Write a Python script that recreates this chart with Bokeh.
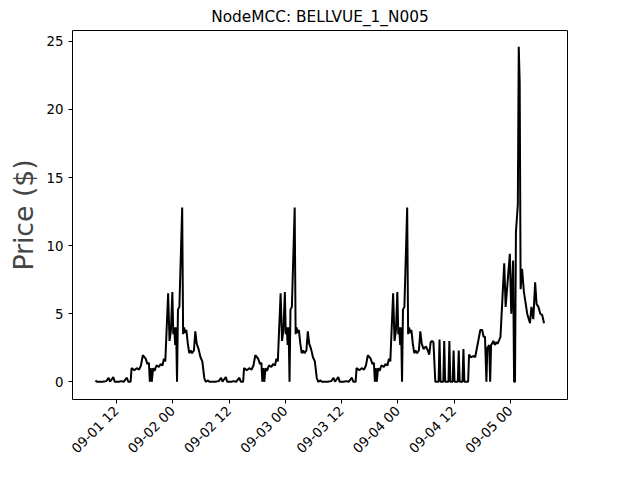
from bokeh.plotting import figure
from bokeh.models import FixedTicker, Range1d
from bokeh.embed import file_html
from bokeh.resources import INLINE
import pandas as pd

# hours after 09-01 00:00 and price, one repeated daily cycle
cycle_hours = [7.5, 7.8, 9.0, 9.8, 10.3, 10.6, 11.3, 11.6, 12.5, 13.0, 13.5, 14.2, 14.5, 15.0,
               15.2, 15.8, 16.3, 16.8, 17.2, 17.6, 18.2, 18.6, 18.9, 19.1, 19.3, 19.5, 19.8, 20.1,
               20.5, 21.0, 21.4, 21.8, 22.1, 22.4, 23.0, 23.3, 23.6, 23.9, 24.1, 24.3, 24.5, 24.7,
               24.9, 25.1, 25.4, 26.0, 26.2, 26.4, 26.6, 26.9, 27.2, 27.5, 27.8, 28.1, 28.5, 28.8,
               29.1, 29.5, 29.9, 30.3, 30.7, 31.0]
cycle_prices = [0.1, 0.0, 0.0, 0.05, 0.3, 0.0, 0.35, 0.0, 0.0, 0.05, 0.0, 0.3, 0.0, 0.0,
                1.0, 0.85, 1.0, 0.9, 1.2, 1.95, 1.7, 1.3, 1.4, 0.0, 1.0, 0.0, 1.0, 0.8,
                1.2, 1.1, 1.3, 1.2, 1.7, 1.5, 6.5, 3.0, 3.8, 6.6, 3.5, 4.0, 2.7, 4.0,
                0.0, 5.3, 5.5, 12.8, 3.5, 4.0, 3.6, 3.8, 2.8, 2.1, 2.3, 2.1, 2.3, 3.7,
                2.8, 2.4, 1.8, 1.5, 0.3, 0.0]
cycle_days = [0, 1, 2]

# last stretch (09-04 06:00 onward), hours after 09-01 00:00
tail_hours = [78.0, 78.4, 78.7, 79.0, 79.3, 79.6, 80.0, 80.7, 80.9, 81.1, 81.7, 81.9, 82.1, 82.8,
              83.0, 83.2, 83.7, 83.9, 84.1, 84.8, 85.0, 85.2, 85.8, 86.0, 86.2, 87.0, 87.2, 87.6,
              88.2, 88.5, 89.0, 89.6, 90.0, 90.3, 90.6, 90.9, 91.1, 91.5, 91.7, 91.9, 92.1, 92.4,
              92.7, 93.0, 93.3, 93.9, 94.7, 95.0, 95.9, 96.2, 96.6, 96.8, 97.0, 97.2, 97.6, 97.8,
              98.0, 98.2, 98.5, 98.9, 99.6, 100.2, 100.5, 100.9, 101.3, 101.6, 102.0, 102.4,
              102.8, 103.2]
tail_prices = [2.6, 2.3, 2.0, 2.9, 3.0, 2.9, 0.0, 0.0, 3.1, 0.0, 0.0, 3.0, 0.0, 0.0,
               3.0, 0.0, 0.0, 2.3, 0.0, 0.0, 2.3, 0.0, 0.0, 2.4, 0.0, 0.0, 2.0, 1.8,
               1.9, 1.8, 2.7, 3.8, 3.8, 3.3, 3.3, 0.0, 2.5, 2.7, 0.0, 2.7, 2.8, 3.0,
               2.7, 2.9, 2.8, 3.3, 8.7, 5.5, 9.4, 5.0, 8.9, 0.0, 0.0, 11.0, 13.0, 24.6,
               22.0, 6.8, 8.3, 6.6, 5.0, 4.3, 5.5, 4.6, 7.3, 5.7, 5.5, 5.0,
               4.9, 4.3]

tick_hours = [12, 24, 36, 48, 60, 72, 84, 96]
tick_labels = ["09-01 12", "09-02 00", "09-02 12", "09-03 00", "09-03 12", "09-04 00",
               "09-04 12", "09-05 00"]

t0 = pd.Timestamp("2020-09-01")
hrs, prices = [], []
for d in cycle_days:
    for h, v in zip(cycle_hours, cycle_prices):
        if d == 2 and h > 29.5:
            break
        hrs.append(h + 24 * d)
        prices.append(v)
hrs += tail_hours
prices += tail_prices
xs = [(t0 + pd.Timedelta(hours=h)).value / 1e6 for h in hrs]
tick_ms = [(t0 + pd.Timedelta(hours=h)).value / 1e6 for h in tick_hours]

p = figure(width=624, height=464, output_backend="svg", toolbar_location=None,
           title="NodeMCC: BELLVUE_1_N005", min_border_left=72, min_border_right=57,
           min_border_top=20)
p.line(xs, prices, line_color="black", line_width=2)

p.x_range = Range1d((t0 + pd.Timedelta(hours=2.6)).value / 1e6, (t0 + pd.Timedelta(hours=108.2)).value / 1e6)
p.y_range = Range1d(-1.3, 25.8)

p.xaxis.ticker = FixedTicker(ticks=tick_ms)
p.xaxis.major_label_overrides = {t: l for t, l in zip(tick_ms, tick_labels)}
p.xaxis.major_label_orientation = 0.785
p.yaxis.ticker = FixedTicker(ticks=[0, 5, 10, 15, 20, 25])
p.yaxis.axis_label = "Price ($)"
p.yaxis.axis_label_text_font_size = "20pt"
p.yaxis.axis_label_text_font_style = "normal"

for ax in (p.xaxis, p.yaxis):
    ax.major_label_text_font_size = "10pt"
    ax.major_label_text_color = "black"
    ax.axis_line_color = None
    ax.major_tick_line_color = "black"
    ax.minor_tick_line_color = None
    ax.major_tick_out = 4
    ax.major_tick_in = 0
    ax.major_label_text_font = "DejaVu Sans"
    ax.axis_label_text_font = "DejaVu Sans"

p.title.align = "center"
p.title.text_font = "DejaVu Sans"
p.title.text_font_size = "11.5pt"
p.title.text_font_style = "normal"
p.title.text_color = "black"
p.grid.grid_line_color = None
p.outline_line_color = "black"
p.outline_line_alpha = 1

open("out.html", "w").write(file_html(p, INLINE))
